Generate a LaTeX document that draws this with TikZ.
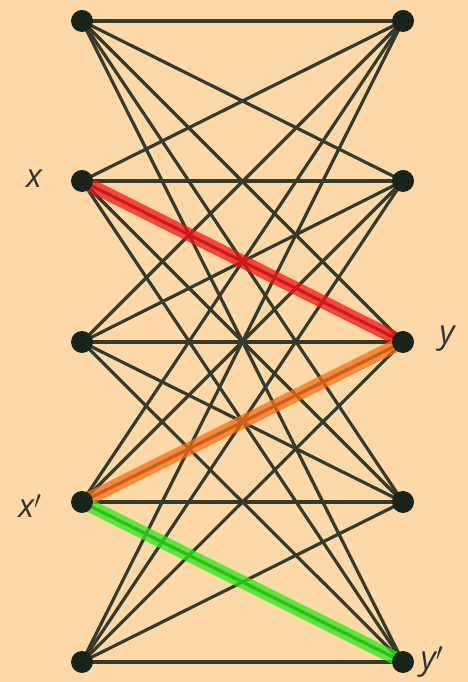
\documentclass[tikz,border=0pt]{standalone}
\usepackage{fontspec}
\setmainfont{Open Sans}
\definecolor{bg}{RGB}{253,217,168}
\definecolor{edgec}{RGB}{52,58,44}
\definecolor{vert}{RGB}{22,36,26}
\definecolor{hred}{RGB}{245,20,20}
\definecolor{horange}{RGB}{250,110,20}
\definecolor{hgreen}{RGB}{40,235,20}
\begin{document}
\begin{tikzpicture}[x=1pt,y=1pt,
  vtx/.style={circle,fill=vert,inner sep=0pt,minimum size=22pt},
  edg/.style={draw=edgec,line width=3.2pt},
  hl/.style={line width=13pt,opacity=0.75},
  lbl/.style={font=\itshape\fontsize{33}{33}\selectfont,text=black!80,inner sep=0pt}]
\fill[bg] (0,0) rectangle (468,682);
\useasboundingbox (0,0) rectangle (468,682);
\foreach \i/\yy in {1/661,2/501,3/340,4/180,5/20}{
  \coordinate (L\i) at (82,\yy);
  \coordinate (R\i) at (403,\yy);
}
\foreach \i in {1,...,5}{
  \foreach \j in {1,...,5}{
    \draw[edg] (L\i) -- (R\j);
  }
}
\draw[hl,hred] (L2) -- (R3);
\draw[hl,horange] (L4) -- (R3);
\draw[hl,hgreen] (L4) -- (R5);
\foreach \i in {1,...,5}{
  \node[vtx] (l\i) at (L\i) {};
  \node[vtx] (r\i) at (R\i) {};
}
\node[lbl] (lx) at (34,503) {x};
\node[lbl] (ly) at (447,343) {y};
\node[lbl] (lxp) at (30,176) {x$'$};
\node[lbl] (lyp) at (432,20) {y$'$};
\end{tikzpicture}
\end{document}
